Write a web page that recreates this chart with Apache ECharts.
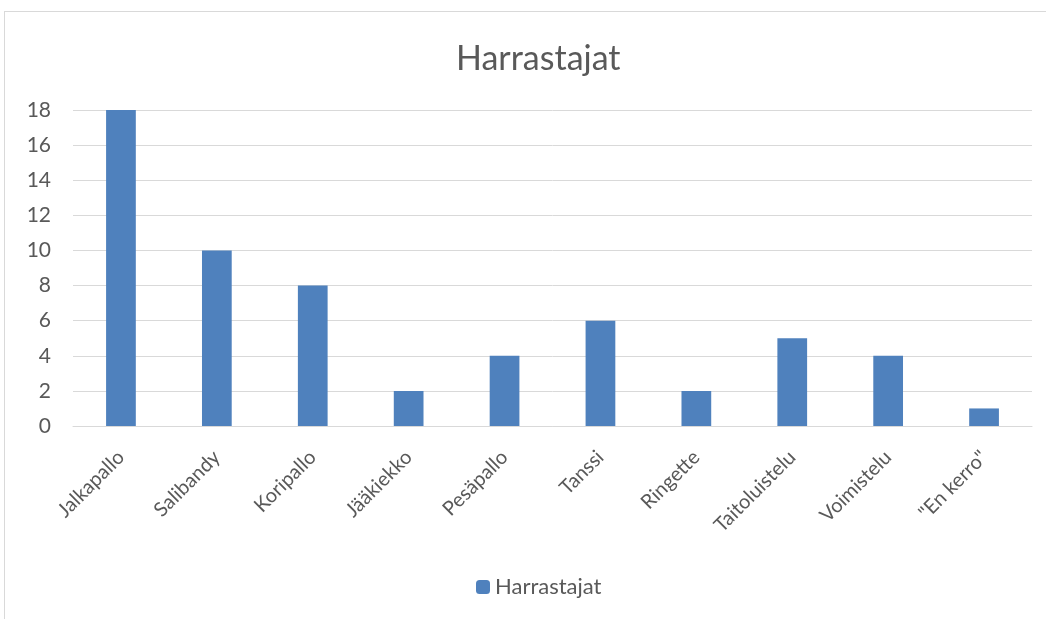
<!DOCTYPE html>
<html>
<head>
<meta charset="utf-8">
<script src="https://cdn.jsdelivr.net/npm/echarts@6/dist/echarts.min.js"></script>
<style>
  html, body { margin: 0; padding: 0; background: #fff; }
  #frame { position: absolute; left: 4px; top: 11px; width: 1060px; height: 640px;
           border-left: 1px solid #d9d9d9; border-top: 1px solid #d9d9d9; }
  #chart { position: absolute; left: 0; top: 0; width: 1046px; height: 619px; }
</style>
</head>
<body>
<div id="frame"></div>
<div id="chart"></div>
<script>
// lajit ja harrastajien määrät
var categories = ['Jalkapallo', 'Salibandy', 'Koripallo', 'Jääkiekko', 'Pesäpallo',
  'Tanssi', 'Ringette', 'Taitoluistelu', 'Voimistelu', '"En kerro"'];
var harrastajat = [18, 10, 8, 2, 4, 6, 2, 5, 4, 1];
var yTicks = [0, 2, 4, 6, 8, 10, 12, 14, 16, 18];

var myChart = echarts.init(document.getElementById('chart'));
var option = {
  animation: false,
  textStyle: { fontFamily: 'Lato', color: '#595959' },
  title: {
    text: 'Harrastajat',
    left: 451,
    top: 37,
    textStyle: { fontSize: 34, fontWeight: 'normal', color: '#595959', fontFamily: 'Lato' }
  },
  legend: {
    data: ['Harrastajat'],
    bottom: 16,
    left: 471,
    itemWidth: 14,
    itemHeight: 14,
    itemGap: 6,
    textStyle: { fontSize: 22, color: '#595959' }
  },
  grid: { left: 73, right: 14, top: 110, bottom: 193 },
  xAxis: {
    type: 'category',
    data: categories,
    axisTick: { show: false },
    axisLine: { lineStyle: { color: '#d9d9d9' } },
    axisLabel: { rotate: 45, fontSize: 20, color: '#595959', margin: 28 }
  },
  yAxis: {
    type: 'value',
    min: yTicks[0],
    max: yTicks[yTicks.length - 1],
    interval: 2,
    axisLine: { show: false },
    axisTick: { show: false },
    axisLabel: { fontSize: 21, color: '#595959', margin: 22 },
    splitLine: { lineStyle: { color: '#d9d9d9', width: 1 } }
  },
  series: [{
    name: 'Harrastajat',
    type: 'bar',
    data: harrastajat,
    barWidth: '31%',
    itemStyle: { color: '#4f81bd' }
  }]
};
myChart.setOption(option);
</script>
</body>
</html>
